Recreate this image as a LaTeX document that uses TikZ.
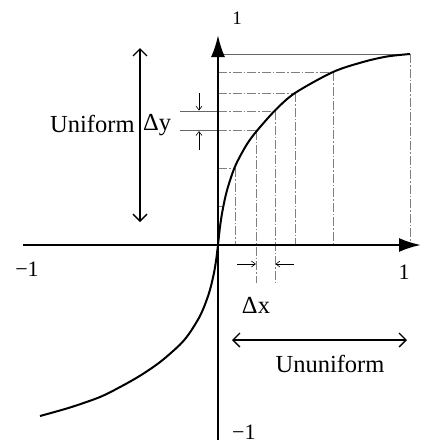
\documentclass[tikz,border=0pt]{standalone}
\usepackage{fontspec}
\setmainfont{Liberation Serif}
\usetikzlibrary{arrows.meta}
\begin{document}
\begin{tikzpicture}[x=1pt,y=-1pt,
 axisline/.style={line width=2.4pt,-{Latex[length=22pt,width=14pt]}},
 curveline/.style={line width=2pt},
 guide/.style={line width=0.6pt,black!50,dash pattern=on 9pt off 2pt on 1.5pt off 2pt},
 guidesolid/.style={line width=0.6pt,black!60},
 openarrow/.style={line width=1.3pt,{Straight Barb[length=7pt,width=14pt]}-{Straight Barb[length=7pt,width=14pt]}},
 smallarrow/.style={line width=0.6pt,-{Straight Barb[length=4pt,width=6pt]}},
 lab/.style={inner sep=0pt,font=\fontsize{24.5}{27}\selectfont},
 numlab/.style={inner sep=0pt,font=\fontsize{22}{24}\selectfont},
 ]
\useasboundingbox (0,0) rectangle (424,445);
% axes
\coordinate (O) at (218,245);
\coordinate (xl) at (23,245);
\coordinate (xr) at (421,245);
\coordinate (yt) at (218,35);
\coordinate (yb) at (218,440);
% curve points
\coordinate (p1) at (410,54);
\coordinate (p2) at (333,72);
\coordinate (p3) at (295,93);
\coordinate (p4) at (275,111);
\coordinate (p5) at (256.4,130.5);
\coordinate (p6) at (235.5,168);
\coordinate (p7) at (223.5,206);
% axis feet
\coordinate (a1) at (218,54);
\coordinate (a2) at (218,72);
\coordinate (a3) at (218,93);
\coordinate (a4) at (218,111);
\coordinate (a5) at (218,130.5);
\coordinate (a6) at (218,168);
\coordinate (a7) at (218,206);
\coordinate (b1) at (410,245);
\coordinate (b2) at (333,245);
\coordinate (b3) at (295,245);
\coordinate (b4) at (275,283);
\coordinate (b5) at (256.4,283);
\coordinate (b6) at (235.5,245);
% guide lines
\draw[guidesolid] (a1) -- (p1);
\foreach \i in {2,...,7} {\draw[guide] (a\i) -- (p\i);}
\draw[guide] (p1) -- (b1);
\foreach \i in {2,...,6} {\draw[guide] (p\i) -- (b\i);}
% Delta y extensions
\coordinate (e4) at (180,111);
\coordinate (e5) at (180,130.5);
\draw[guidesolid] (e4) -- (a4);
\draw[guidesolid] (e5) -- (a5);
\coordinate (dy1s) at (199,93);
\coordinate (dy1e) at (199,110.5);
\coordinate (dy2s) at (199,150);
\coordinate (dy2e) at (199,131);
\draw[smallarrow] (dy1s) -- (dy1e);
\draw[smallarrow] (dy2s) -- (dy2e);
% Delta x arrows
\coordinate (dx1s) at (237,264);
\coordinate (dx1e) at (255.9,264);
\coordinate (dx2s) at (294,264);
\coordinate (dx2e) at (275.5,264);
\draw[smallarrow] (dx1s) -- (dx1e);
\draw[smallarrow] (dx2s) -- (dx2e);
% axes
\draw[axisline] (xl) -- (xr);
\draw[axisline] (yb) -- (yt);
% curve
\draw[curveline] plot[smooth,tension=0.5] coordinates {(218,245) (219,235.6) (219.9,227.6) (221.8,214.6) (224.7,199.8) (227.6,188.2) (232.4,173.3) (237.2,161.8) (246.8,144.4) (256.4,131.4) (275,110.5) (295,93) (333,72) (363,62) (387,56.5) (410,54)};
\draw[curveline] plot[smooth,tension=0.5] coordinates {(218,245) (217,253.3) (216.1,260.3) (214.2,271.8) (211.3,284.8) (208.4,295) (203.6,308) (198.8,318.2) (189.2,333.6) (179.6,345) (160.4,361.8) (141.2,375) (122,386) (100,397) (70,407.5) (40,416)};
% range arrows
\coordinate (ut) at (140,48);
\coordinate (ub) at (140,222);
\draw[openarrow] (ut) -- (ub);
\coordinate (ul) at (232,340);
\coordinate (ur) at (407,340);
\draw[openarrow] (ul) -- (ur);
% labels
\node[lab,anchor=base west] (uni) at (50,132) {Uniform};
\node[lab,anchor=base west] (dy) at (143,130) {Δy};
\node[lab,anchor=base] (dx) at (256,313) {Δx};
\node[lab,anchor=base] (ununi) at (330,372) {Ununiform};
\node[inner sep=0pt,font=\fontsize{19}{21}\selectfont,anchor=base] (ytop) at (237,24) {1};
\node[numlab,anchor=base] (xleft) at (27,276) {−1};
\node[numlab,anchor=base] (xright) at (404,279) {1};
\node[numlab,anchor=base west] (ybot) at (232,439) {−1};
\end{tikzpicture}
\end{document}
